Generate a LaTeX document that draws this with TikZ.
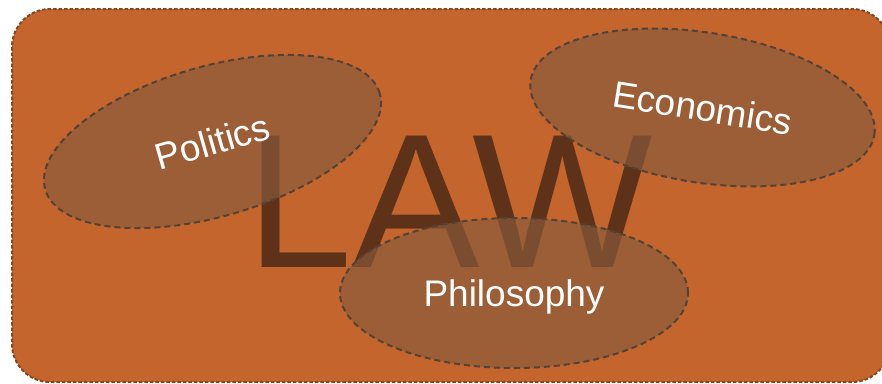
\documentclass[tikz,border=0pt]{standalone}
\usepackage{fontspec}
\setmainfont{Liberation Sans}
\usetikzlibrary{shapes.geometric}
\definecolor{lawbg}{RGB}{196,101,45}
\definecolor{lawframe}{RGB}{135,70,32}
\definecolor{lawink}{RGB}{94,50,24}
\definecolor{topicfill}{RGB}{136,91,61}
\definecolor{topicline}{RGB}{85,66,52}
\tikzstyle{frame} = [fill=lawbg, draw=lawframe, line width=2pt, dash pattern=on 3.5pt off 2pt, rounded corners=38pt]
\tikzstyle{topic} = [ellipse, minimum width=348pt, minimum height=150pt, inner sep=0pt, text height=35pt, text depth=8pt, draw=topicline, line width=2pt, dash pattern=on 6pt off 4pt, fill=topicfill, fill opacity=0.68, text opacity=1, text=white, font=\fontsize{37}{37}\selectfont]
\tikzstyle{bigword} = [inner sep=0pt, anchor=base west, text=lawink, font=\fontsize{191}{191}\selectfont]

\begin{document}
\begin{tikzpicture}[x=1pt, y=-1pt]
\path[use as bounding box, clip] (0,0) rectangle (882,383);
\draw[frame] (12,9) rectangle (890,382);
\node (law) [bigword] at (246,267.5) {LAW};
\node (politics) [topic, rotate=16] at (212.5,141.5) {Politics};
\node (economics) [topic, rotate=-9] at (702.5,107.5) {Economics};
\node (philosophy) [topic] at (514,293) {Philosophy};
\end{tikzpicture}
\end{document}
